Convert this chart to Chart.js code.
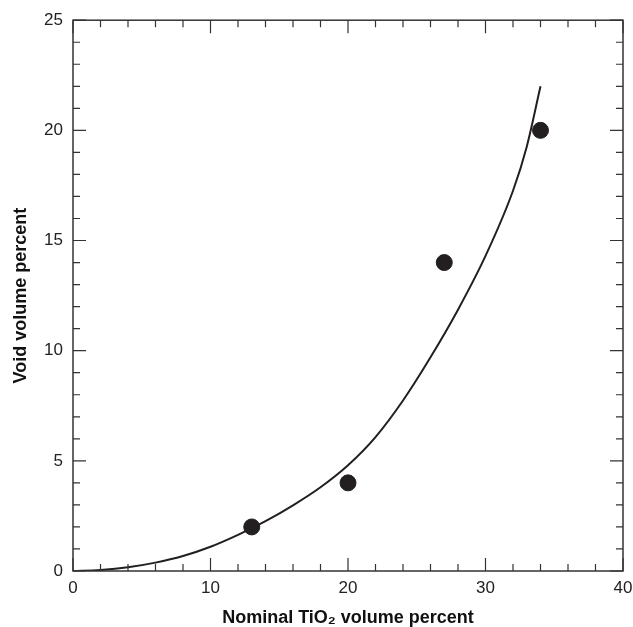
<!DOCTYPE html>
<html lang="en">
<head>
    <meta charset="UTF-8">
    <title>Void volume vs nominal TiO2</title>
    <script src="https://cdn.jsdelivr.net/npm/chart.js"></script>
    <style>
        html, body { margin: 0; padding: 0; background: #fff; }
        #wrap { width: 633px; height: 627px; }
    </style>
</head>
<body>
    <div id="wrap"><canvas id="chartCanvas"></canvas></div>

    <script>
        // measured points
        var pointX = [13, 20, 27, 34];
        var pointY = [2, 4, 14, 20];

        // fitted curve
        var curveX = [0, 2, 4, 6, 8, 10, 12, 14, 16, 18, 20, 22, 24, 26, 28, 30, 32, 33, 34];
        var curveY = [0, 0.05, 0.17, 0.38, 0.68, 1.1, 1.64, 2.26, 2.98, 3.8, 4.8, 6.08, 7.74, 9.7, 11.86, 14.3, 17.26, 19.26, 22.0];

        // axis ticks
        var xTicks = [0, 10, 20, 30, 40];
        var yTicks = [0, 5, 10, 15, 20, 25];
        var xMinorStep = 2;
        var yMinorStep = 1;

        var ink = '#231f20';

        var frameTicks = {
            id: 'frameTicks',
            afterDatasetsDraw: function(chart) {
                var ctx = chart.ctx;
                var xs = chart.scales.x, ys = chart.scales.y;
                var a = chart.chartArea;
                ctx.save();
                ctx.strokeStyle = '#333';
                ctx.lineWidth = 1.5;
                ctx.strokeRect(a.left, a.top, a.right - a.left, a.bottom - a.top);
                ctx.lineWidth = 1.2;
                ctx.beginPath();
                for (var v = xs.min; v <= xs.max; v += xMinorStep) {
                    var px = xs.getPixelForValue(v);
                    var len = xTicks.indexOf(v) >= 0 ? 13 : 7;
                    ctx.moveTo(px, a.bottom); ctx.lineTo(px, a.bottom - len);
                    ctx.moveTo(px, a.top); ctx.lineTo(px, a.top + len);
                }
                for (var w = ys.min; w <= ys.max; w += yMinorStep) {
                    var py = ys.getPixelForValue(w);
                    var l2 = yTicks.indexOf(w) >= 0 ? 13 : 7;
                    ctx.moveTo(a.left, py); ctx.lineTo(a.left + l2, py);
                    ctx.moveTo(a.right, py); ctx.lineTo(a.right - l2, py);
                }
                ctx.stroke();
                ctx.restore();
            }
        };

        var curveData = curveX.map(function(x, i) { return { x: x, y: curveY[i] }; });
        var pointData = pointX.map(function(x, i) { return { x: x, y: pointY[i] }; });

        var tickFont = { family: 'Arial, "Liberation Sans", sans-serif', size: 17 };
        var titleFont = { family: 'Arial, "Liberation Sans", sans-serif', size: 18, weight: 'bold' };

        new Chart(document.getElementById('chartCanvas'), {
            type: 'scatter',
            data: {
                datasets: [{
                    data: pointData,
                    backgroundColor: ink,
                    borderColor: ink,
                    pointRadius: 8,
                    pointHoverRadius: 8
                }, {
                    data: curveData,
                    showLine: true,
                    borderColor: ink,
                    borderWidth: 2,
                    pointRadius: 0,
                    cubicInterpolationMode: 'monotone',
                    fill: false
                }]
            },
            options: {
                responsive: true,
                maintainAspectRatio: false,
                animation: false,
                layout: { padding: { top: 20, right: 10, left: 0, bottom: 0 } },
                plugins: { legend: { display: false }, tooltip: { enabled: false } },
                scales: {
                    x: {
                        type: 'linear', min: 0, max: 40,
                        afterBuildTicks: function(s) { s.ticks = xTicks.map(function(v) { return { value: v }; }); },
                        afterFit: function(s) { s.height = 56; s.paddingLeft = 0; s.paddingRight = 0; },
                        grid: { display: false, drawTicks: false },
                        border: { display: false },
                        ticks: { color: '#222', font: tickFont, padding: 7, maxRotation: 0 },
                        title: { display: true, text: 'Nominal TiO₂ volume percent', color: '#111', font: titleFont, padding: { top: 0, bottom: -2 } }
                    },
                    y: {
                        type: 'linear', min: 0, max: 25,
                        afterBuildTicks: function(s) { s.ticks = yTicks.map(function(v) { return { value: v }; }); },
                        afterFit: function(s) { s.width = 73; },
                        grid: { display: false, drawTicks: false },
                        border: { display: false },
                        ticks: { color: '#222', font: tickFont, padding: 10 },
                        title: { display: true, text: 'Void volume percent', color: '#111', font: titleFont, padding: { top: 10, bottom: 0 } }
                    }
                }
            },
            plugins: [frameTicks]
        });
    </script>
</body>
</html>
